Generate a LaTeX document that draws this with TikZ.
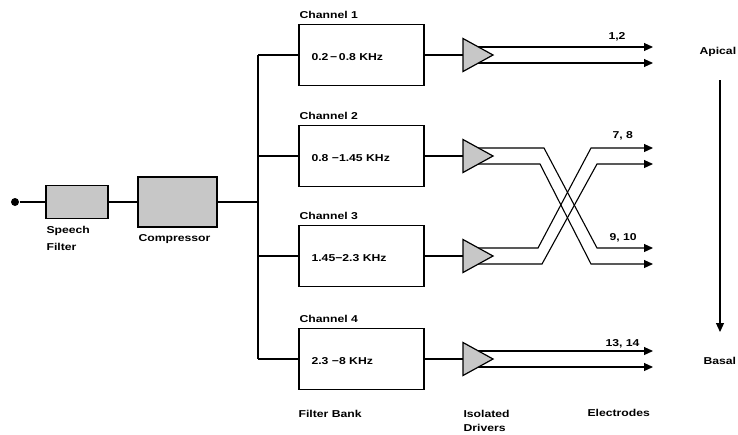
\documentclass[tikz,border=0pt]{standalone}
\usepackage{fontspec}
\setmainfont{Liberation Sans}[FakeStretch=1.22]
\usetikzlibrary{arrows.meta}
\begin{document}
\begin{tikzpicture}[x=1pt,y=-1pt,
  font=\bfseries\fontsize{10}{12}\selectfont,
  line width=1.1pt,
  lbl/.style={inner sep=0, anchor=base west},
  stip/.style={draw, line width=1.2pt, fill=black!22},
  fbox/.style={draw, line width=1.2pt, minimum width=125pt, minimum height=61pt, inner sep=0},
  arr/.style={-{Triangle[length=9pt,width=8pt]}}]
\useasboundingbox (0,0) rectangle (738,434);

% input chain
\node[circle, fill, inner sep=0, minimum size=8pt] (in) at (15,202) {};
\node[stip, minimum width=62pt, minimum height=33pt, inner sep=0] (sf) at (77,202) {};
\node[stip, minimum width=79pt, minimum height=50pt, inner sep=0] (cp) at (177.5,202) {};
\node[lbl] (sfl1) at (46,233) {Speech};
\node[lbl] (sfl2) at (46,250) {Filter};
\node[lbl] (cpl) at (138,241) {Compressor};
\draw (in) -- (sf);
\draw (sf) -- (cp);

% bus
\coordinate (bt) at (258,55);
\coordinate (bb) at (258,359);
\coordinate (bm) at (258,202);
\draw (cp.east) -- (bm);
\draw (bt) -- (bb);

% channels
\foreach \i/\y/\t in {1/55/{0.2\,−\,0.8 KHz},2/156/{0.8 −1.45 KHz},3/256/{1.45−2.3 KHz},4/359/{2.3 −8 KHz}}{
  \node[fbox] (f\i) at (361.5,\y) {};
  \node[inner sep=0, anchor=west] (t\i) at (311,\y+2) {\t};
  \node[lbl] (c\i) at (299,\y-36.5) {Channel \i};
  \draw (bt |- f\i.west) -- (f\i.west);
  \coordinate (d\i) at (463,\y);
  \draw (f\i.east) -- (d\i);
}

% electrode ends
\coordinate (e1a) at (653,47);  \coordinate (e1b) at (653,63);
\coordinate (e2a) at (653,148); \coordinate (e2b) at (653,164);
\coordinate (e3a) at (653,248); \coordinate (e3b) at (653,264);
\coordinate (e4a) at (653,351); \coordinate (e4b) at (653,367);

% straight outputs
\draw[arr] ([shift={(8,-8)}]d1) -- (e1a);
\draw[arr] ([shift={(8,8)}]d1) -- (e1b);
\draw[arr] ([shift={(8,-8)}]d4) -- (e4a);
\draw[arr] ([shift={(8,8)}]d4) -- (e4b);

% crossing outputs
\draw[arr] ([shift={(8,-8)}]d2) -- (544,148) -- (597,248) -- (e3a);
\draw[arr] ([shift={(8,8)}]d2) -- (540,164) -- (591,264) -- (e3b);
\draw[arr] ([shift={(8,-8)}]d3) -- (538,248) -- (591,148) -- (e2a);
\draw[arr] ([shift={(8,8)}]d3) -- (542,264) -- (597,164) -- (e2b);

% drivers
\foreach \i in {1,2,3,4}{
  \draw[stip] ([shift={(0,-16.5)}]d\i) -- ([shift={(30,0)}]d\i) -- ([shift={(0,16.5)}]d\i) -- cycle;
}

% electrode labels
\node[lbl] (n1) at (608,39) {1,2};
\node[lbl] (n2) at (612,138) {7, 8};
\node[lbl] (n3) at (609,240) {9, 10};
\node[lbl] (n4) at (605,346) {13, 14};

% bottom labels
\node[lbl] (fb) at (298,417) {Filter Bank};
\node[lbl] (id1) at (463,417) {Isolated};
\node[lbl] (id2) at (463,431) {Drivers};
\node[lbl] (el) at (587,416) {Electrodes};

% apical / basal
\node[lbl] (ap) at (699,54.5) {Apical};
\node[lbl] (bs) at (703,364) {Basal};
\coordinate (at) at (720,80);
\coordinate (ab) at (720,332);
\draw[arr] (at) -- (ab);
\end{tikzpicture}
\end{document}
